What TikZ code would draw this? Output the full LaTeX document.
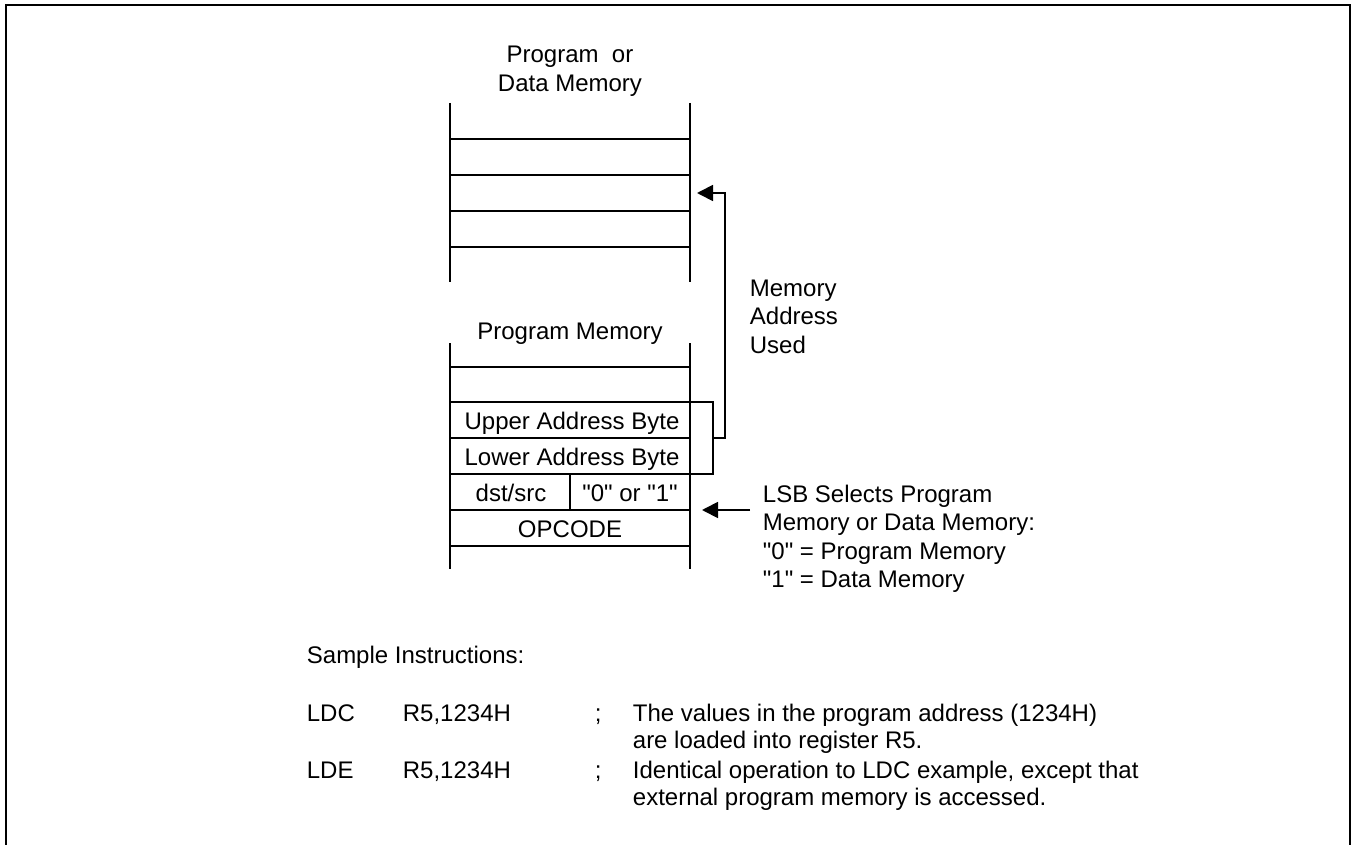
\documentclass[tikz,border=0pt]{standalone}
\usepackage{fontspec}
\setmainfont{Liberation Sans}
\usetikzlibrary{arrows.meta,positioning}

\begin{document}
\begin{tikzpicture}[x=1pt, y=-1pt, line width=1.8pt,
  every node/.style={font=\fontsize{24}{29}\selectfont, inner sep=0pt},
  txt/.style={anchor=base west},
  ctr/.style={anchor=base},
  >={Triangle[length=16pt,width=16pt]}]
\useasboundingbox (0,0) rectangle (1352,845);
% outer frame, open at the bottom
\draw[line width=2.6pt] (6,845) -- (6,5) -- (1350,5) -- (1350,845);

% upper memory
\node[ctr] (pdm1) at (570,63) {Program\ \ or};
\node[ctr] (pdm2) at (570,92) {Data Memory};
\draw (450,103) -- (450,282) (690,103) -- (690,282);
\foreach \y in {139,175,211,247}
  \draw (450,\y) -- (690,\y);
\coordinate (target) at (697,193);

% lower memory
\node[ctr] (pm) at (570,339) {Program Memory};
\draw (450,343) -- (450,569) (690,343) -- (690,569);
\foreach \y in {367,402,438,474,510,546}
  \draw (450,\y) -- (690,\y);
\draw (570,474) -- (570,510);
\node[ctr] (upper) at (572,429) {Upper Address Byte};
\node[ctr] (lower) at (572,465) {Lower Address Byte};
\node[ctr] (dst) at (511,501) {dst/src};
\node[ctr] (sel) at (630,501) {\textquotedbl0\textquotedbl{} or \textquotedbl1\textquotedbl};
\node[ctr] (opc) at (570,537) {OPCODE};

% bracket and address arrow
\draw (690,402) -| (713,474) -- (690,474);
\coordinate (brk) at (713,438);
\draw[->] (brk) -- (725,438) |- (target);
\node[txt] (mau1) at (749,296) {Memory};
\node[txt] (mau2) at (749,324) {Address};
\node[txt] (mau3) at (749,353) {Used};

% LSB arrow
\coordinate (lsbtail) at (750,510);
\coordinate (lsbtip) at (702,510);
\draw[->] (lsbtail) -- (lsbtip);
\node[txt] (lsb1) at (762,502) {LSB Selects Program};
\node[txt] (lsb2) at (762,530) {Memory or Data Memory:};
\node[txt] (lsb3) at (762,559) {\textquotedbl0\textquotedbl{} = Program Memory};
\node[txt] (lsb4) at (762,587) {\textquotedbl1\textquotedbl{} = Data Memory};

% sample instructions
\node[txt] (smp) at (306,663) {Sample Instructions:};
\node[txt] (ldc) at (306,721) {LDC};
\node[txt] (ldcop) at (402,721) {R5,1234H};
\node[txt] (ldcsc) at (594,721) {;};
\node[txt] (ldcc1) at (632,721) {The values in the program address (1234H)};
\node[txt] (ldcc2) at (632,748) {are loaded into register R5.};
\node[txt] (lde) at (306,778) {LDE};
\node[txt] (ldeop) at (402,778) {R5,1234H};
\node[txt] (ldesc) at (594,778) {;};
\node[txt] (ldec1) at (632,778) {Identical operation to LDC example, except that};
\node[txt] (ldec2) at (632,805) {external program memory is accessed.};
\end{tikzpicture}
\end{document}
